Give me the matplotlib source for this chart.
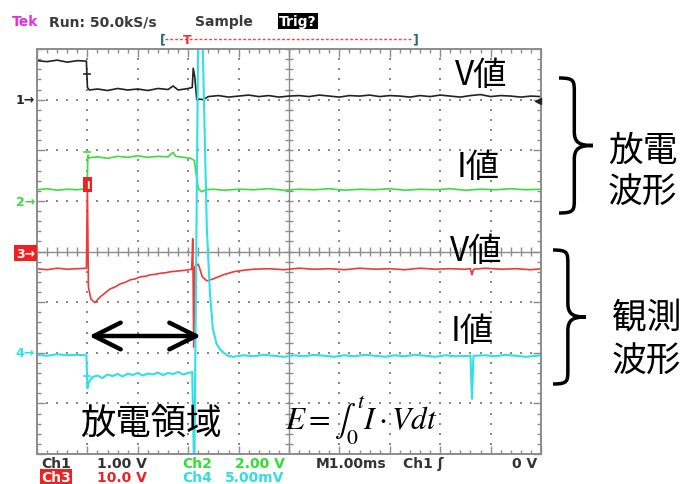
import numpy as np
import matplotlib.pyplot as plt
from matplotlib.path import Path
from matplotlib.patches import PathPatch

plt.rcParams['font.family'] = ['Noto Sans CJK JP', 'DejaVu Sans']
plt.rcParams['mathtext.fontset'] = 'stix'

# traces: (time in divisions of 1 ms, level in divisions from bottom of screen)
ch1 = [(0.0, 7.77), (0.2, 7.75), (0.4, 7.78), (0.6, 7.74), (0.8, 7.77), (0.98, 7.76),
       (1.0, 7.24), (1.04, 7.19), (1.2, 7.21), (1.4, 7.18), (1.6, 7.22), (1.8, 7.19),
       (2.0, 7.21), (2.2, 7.18), (2.4, 7.22), (2.6, 7.2), (2.7, 7.27), (2.8, 7.19),
       (3.0, 7.22), (3.08, 7.24), (3.1, 7.62), (3.13, 7.45), (3.17, 7.0), (3.22, 7.01),
       (3.3, 7.0), (3.4, 7.06), (3.6, 7.08), (3.8, 7.05), (4.0, 7.07), (4.2, 7.09),
       (4.4, 7.06), (4.6, 7.08), (4.8, 7.05), (5.0, 7.07), (5.2, 7.08), (5.4, 7.06),
       (5.6, 7.09), (5.8, 7.07), (6.0, 7.05), (6.2, 7.08), (6.4, 7.07), (6.6, 7.09),
       (6.8, 7.06), (7.0, 7.08), (7.2, 7.07), (7.4, 7.05), (7.6, 7.08), (7.8, 7.06),
       (8.0, 7.09), (8.2, 7.07), (8.4, 7.05), (8.6, 7.08), (8.8, 7.1), (9.0, 7.06),
       (9.2, 7.08), (9.4, 7.07), (9.6, 7.05), (9.8, 7.07), (10.0, 7.06)]

ch2 = [(0.0, 5.22), (0.2, 5.24), (0.4, 5.21), (0.6, 5.23), (0.8, 5.22), (0.98, 5.24),
       (1.0, 5.5), (1.01, 5.9), (1.03, 5.85), (1.2, 5.87), (1.4, 5.84), (1.6, 5.88),
       (1.8, 5.86), (2.0, 5.89), (2.2, 5.86), (2.4, 5.88), (2.6, 5.87), (2.7, 5.96),
       (2.75, 5.88), (2.9, 5.86), (3.05, 5.84), (3.12, 5.8), (3.2, 5.24), (3.27, 5.18),
       (3.35, 5.22), (3.5, 5.23), (3.7, 5.21), (4.0, 5.23), (4.3, 5.22), (4.6, 5.24),
       (4.9, 5.21), (5.2, 5.23), (5.5, 5.22), (5.8, 5.24), (6.1, 5.21), (6.4, 5.23),
       (6.7, 5.22), (7.0, 5.24), (7.3, 5.21), (7.6, 5.23), (7.9, 5.22), (8.2, 5.24),
       (8.5, 5.21), (8.8, 5.23), (9.1, 5.22), (9.4, 5.24), (9.7, 5.22), (10.0, 5.23)]

ch3 = [(0.0, 3.66), (0.2, 3.64), (0.4, 3.67), (0.6, 3.65), (0.8, 3.66), (0.98, 3.67),
       (1.0, 5.3), (1.02, 3.3), (1.07, 3.06), (1.15, 2.99), (1.25, 3.1), (1.35, 3.18),
       (1.45, 3.26), (1.55, 3.3), (1.65, 3.36), (1.75, 3.39), (1.85, 3.44), (1.95, 3.46),
       (2.05, 3.5), (2.15, 3.51), (2.25, 3.54), (2.35, 3.55), (2.45, 3.57), (2.55, 3.58),
       (2.65, 3.6), (2.75, 3.61), (2.85, 3.62), (2.95, 3.63), (3.07, 3.65), (3.09, 4.25),
       (3.11, 2.11), (3.13, 3.7), (3.2, 3.75), (3.28, 3.5), (3.37, 3.42), (3.5, 3.46),
       (3.7, 3.54), (3.9, 3.6), (4.1, 3.63), (4.3, 3.65), (4.6, 3.66), (4.9, 3.64),
       (5.2, 3.67), (5.5, 3.65), (5.8, 3.66), (6.1, 3.64), (6.4, 3.67), (6.7, 3.65),
       (7.0, 3.66), (7.3, 3.64), (7.6, 3.67), (7.9, 3.65), (8.2, 3.66), (8.5, 3.65),
       (8.6, 3.66), (8.63, 3.54), (8.66, 3.65), (8.9, 3.67), (9.2, 3.65), (9.5, 3.66),
       (9.8, 3.64), (10.0, 3.66)]

ch4 = [(0.0, 1.96), (0.2, 1.94), (0.4, 1.97), (0.6, 1.95), (0.8, 1.96), (0.98, 1.95),
       (1.0, 1.3), (1.03, 1.42), (1.1, 1.52), (1.2, 1.55), (1.3, 1.5), (1.4, 1.57),
       (1.5, 1.54), (1.6, 1.58), (1.7, 1.53), (1.8, 1.59), (1.9, 1.56), (2.0, 1.6),
       (2.1, 1.55), (2.2, 1.59), (2.3, 1.57), (2.4, 1.61), (2.5, 1.56), (2.6, 1.6),
       (2.7, 1.58), (2.8, 1.62), (2.9, 1.57), (3.0, 1.6), (3.08, 1.62), (3.12, -0.5),
       (3.2, 8.5), (3.29, 8.5), (3.29, 8.0), (3.33, 6.2), (3.37, 4.45), (3.43, 3.2),
       (3.49, 2.47), (3.56, 2.18), (3.63, 2.07), (3.7, 2.0), (3.79, 1.94), (3.9, 1.92),
       (4.1, 1.95), (4.3, 1.93), (4.5, 1.96), (4.7, 1.94), (4.9, 1.92), (5.1, 1.95),
       (5.3, 1.93), (5.5, 1.96), (5.7, 1.94), (5.9, 1.92), (6.1, 1.95), (6.3, 1.93),
       (6.5, 1.96), (6.7, 1.94), (6.9, 1.92), (7.1, 1.95), (7.3, 1.93), (7.5, 1.96),
       (7.7, 1.94), (7.9, 1.92), (8.1, 1.95), (8.3, 1.93), (8.6, 1.94), (8.63, 1.09),
       (8.66, 1.94), (8.9, 1.95), (9.1, 1.93), (9.3, 1.96), (9.5, 1.94), (9.7, 1.92),
       (10.0, 1.95)]

trace_colors = ['#222222', '#3ddc3d', '#ee3a3a', '#2fe0e6']
# small caps drawn on the step edges at t = 1 ms
cap_levels = [7.51, 5.97, 1.54]
cap_colors = ['#222222', '#3ddc3d', '#2fe0e6']
# channel reference markers (level, label, colour)
ch_refs = [(7.0, '1', '#222222'), (4.98, '2', '#3ddc3d'), (2.0, '4', '#2fe0e6')]

W, H = 685, 485
fig = plt.figure(figsize=(W / 100, H / 100), dpi=100)

# scope screen, 10 x 8 divisions
ax = fig.add_axes([37 / W, 1 - 455 / H, 504 / W, 405 / H])
ax.set_xlim(0, 10)
ax.set_ylim(0, 8)
grid_c = '#8c8c8c'
for s in ax.spines.values():
    s.set_color(grid_c)
    s.set_linewidth(1.4)
ax.set_xticks(np.arange(0, 10.01, 1))
ax.set_yticks(np.arange(0, 8.01, 1))
ax.set_xticks(np.arange(0, 10.01, 0.2), minor=True)
ax.set_yticks(np.arange(0, 8.01, 0.2), minor=True)
ax.tick_params(which='both', direction='in', top=True, right=True,
               labelbottom=False, labelleft=False, color=grid_c)
ax.tick_params(which='major', length=6, width=1)
ax.tick_params(which='minor', length=3, width=1)

fine_x = np.arange(0, 10.01, 0.2)
fine_y = np.arange(0, 8.01, 0.2)
for k in range(1, 10):
    if k != 5:
        ax.plot(np.full_like(fine_y, k), fine_y, ls='none', marker='s', ms=1.8,
                mew=0, color='#8a8a8a')
for j in range(1, 8):
    if j != 4:
        ax.plot(fine_x, np.full_like(fine_x, j), ls='none', marker='s', ms=1.8,
                mew=0, color='#8a8a8a')
ax.axvline(5, color=grid_c, lw=1.0)
ax.axhline(4, color=grid_c, lw=1.0)
ax.vlines(fine_x, 4 - 0.08, 4 + 0.08, color=grid_c, lw=1.0)
ax.hlines(fine_y, 5 - 0.07, 5 + 0.07, color=grid_c, lw=1.0)

for tr, c in zip([ch1, ch2, ch3, ch4], trace_colors):
    t, v = zip(*tr)
    ax.plot(t, v, color=c, lw=1.2 if c != '#2fe0e6' else 1.5)
for lv, c in zip(cap_levels, cap_colors):
    ax.plot([0.94, 1.06], [lv, lv], color=c, lw=1.2)
ax.text(1.0, 5.32, 'I', color='white', fontsize=7, fontweight='bold', ha='center',
        va='center', family='DejaVu Sans',
        bbox=dict(boxstyle='square,pad=0.25', fc='#ee2222', ec='none'))

# overlay in pixel coordinates for all the labels around the screen
ov = fig.add_axes([0, 0, 1, 1], zorder=5)
ov.set_xlim(0, W)
ov.set_ylim(H, 0)
ov.axis('off')
ov.patch.set_alpha(0)


def px_y(level):
    return 455 - level * 405 / 8


for lv, lab, c in ch_refs:
    ov.text(35, px_y(lv), lab + '\u2192', color=c, fontsize=9, ha='right',
            va='center', family='DejaVu Sans', fontweight='bold')
ov.text(35, px_y(3.97), '3\u2192', color='white', fontsize=9, ha='right',
        va='center', family='DejaVu Sans', fontweight='bold',
        bbox=dict(boxstyle='square,pad=0.15', fc='#ee2222', ec='none'))
ov.plot([538], [px_y(6.98)], marker='<', ms=5, color='#222222')

mono = dict(family='DejaVu Sans', fontsize=10, fontweight='bold', va='center')
ov.text(12, 22, 'Tek', color='#e030e0', **mono)
ov.text(49, 22, 'Run: 50.0kS/s', color='#3a3a3a', **mono)
ov.text(195, 22, 'Sample', color='#3a3a3a', **mono)
ov.text(279, 22, 'Trig?', color='white', bbox=dict(boxstyle='square,pad=0.1', fc='black',
                                                   ec='none'), **mono)
ov.plot([165, 413], [40, 40], color='#ee4444', lw=1.0, ls=(0, (2, 1.5)))
ov.text(163, 40, '[', color='#2a6a6a', ha='center', **dict(mono, fontsize=9))
ov.text(415, 40, ']', color='#2a6a6a', ha='center', **dict(mono, fontsize=9))
ov.text(187, 40, 'T', color='#ee3333', ha='center', **dict(mono, fontsize=9))

row1, row2 = 464, 478
ov.text(41, row1, 'Ch1', color='#333333', **mono)
ov.text(97, row1, '1.00 V', color='#333333', **mono)
ov.text(182, row1, 'Ch2', color='#33dd33', **mono)
ov.text(235, row1, '2.00 V', color='#33dd33', **mono)
ov.text(316, row1, 'M1.00ms', color='#333333', **mono)
ov.text(403, row1, 'Ch1 \u0283', color='#333333', **mono)
ov.text(512, row1, '0 V', color='#333333', **mono)
ov.text(41, row2, 'Ch3', color='white',
        bbox=dict(boxstyle='square,pad=0.1', fc='#ee2222', ec='none'), **mono)
ov.text(97, row2, '10.0 V', color='#ee2222', **mono)
ov.text(182, row2, 'Ch4', color='#33dde0', **mono)
ov.text(225, row2, '5.00mV', color='#33dde0', **mono)

# annotations
big = dict(fontsize=24, va='center', color='black')
ov.text(455, 76, 'V値', **big)
ov.text(457, 168, 'I値', **big)
ov.text(450, 252, 'V値', **big)
ov.text(451, 332, 'I値', **big)
ov.text(608, 151, '放電', fontsize=25, va='center')
ov.text(608, 193, '波形', fontsize=25, va='center')
ov.text(612, 318, '観測', fontsize=25, va='center')
ov.text(612, 362, '波形', fontsize=25, va='center')
ov.text(80, 424, '放電領域', fontsize=25.5, va='center')
ov.text(285, 421, r'$E=\int_0^t I\cdot Vdt$', fontsize=22.5, va='center')

ov.annotate('', xy=(201, 337), xytext=(89, 337),
            arrowprops=dict(arrowstyle='<->,head_length=1.2,head_width=0.6',
                            lw=3.2, color='black', mutation_scale=16,
                            shrinkA=0, shrinkB=0))


def brace(x0, y0, y1, w, r):
    xm = x0 + w * 0.45
    ym = (y0 + y1) / 2
    verts = [(x0, y0), (xm, y0), (xm, y0 + r * 0.2), (xm, y0 + r),
             (xm, ym - r),
             (xm, ym - r * 0.2), (xm + w * 0.15, ym), (x0 + w, ym),
             (xm + w * 0.15, ym), (xm, ym + r * 0.2), (xm, ym + r),
             (xm, y1 - r),
             (xm, y1 - r * 0.2), (xm, y1), (x0, y1)]
    codes = [Path.MOVETO, Path.CURVE4, Path.CURVE4, Path.CURVE4,
             Path.LINETO,
             Path.CURVE4, Path.CURVE4, Path.CURVE4,
             Path.CURVE4, Path.CURVE4, Path.CURVE4,
             Path.LINETO,
             Path.CURVE4, Path.CURVE4, Path.CURVE4]
    ov.add_patch(PathPatch(Path(verts, codes), fc='none', ec='black', lw=2.5))


brace(559, 79, 214, 34, 14)
brace(553, 251, 385, 33, 14)

plt.savefig('out.png', dpi=100)
